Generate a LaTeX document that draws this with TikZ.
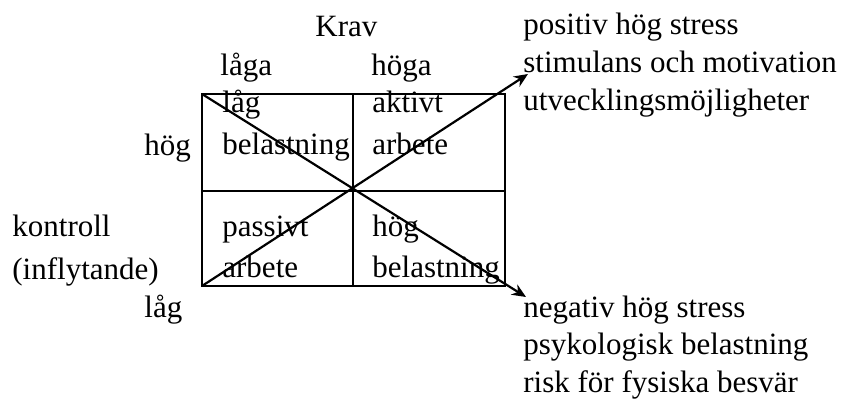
\documentclass[tikz,border=0pt]{standalone}
\usepackage{fontspec}
\setmainfont{Liberation Serif}
\usetikzlibrary{arrows.meta,positioning,calc}
\tikzset{
  txt style/.style={anchor=base west, inner sep=0pt, font=\fontsize{15.5}{19}\selectfont},
  grid style/.style={line width=1.1pt},
  arr style/.style={-{Stealth[length=7pt,width=6pt]}, line width=1.1pt}
}

\begin{document}
\begin{tikzpicture}[x=0.5pt, y=-0.5pt]
\useasboundingbox (0,0) rectangle (842,401);
% grid corners
\coordinate (tl) at (202,94);
\coordinate (tr) at (505,94);
\coordinate (bl) at (202,286);
\coordinate (br) at (505,286);
\coordinate (mid) at (353,191);
\coordinate (ptip) at (528,74);
\coordinate (ntip) at (526,297);
\draw[grid style] (tl) rectangle (br);
\draw[grid style] (tl -| mid) -- (bl -| mid);
\draw[grid style] (tl |- mid) -- (tr |- mid);
\draw[arr style] (bl) -- (ptip);
\draw[arr style] (tl) -- (ntip);
% axis labels
\node[txt style] (krav) at (315,37) {Krav};
\node[txt style] (laga) at (220,76) {låga};
\node[txt style] (hoga) at (371,76) {höga};
\node[txt style] (hog) at (144,156) {hög};
\node[txt style] (ktrl) at (12,237) {kontroll};
\node[txt style] (infl) at (12,279) {(inflytande)};
\node[txt style] (lag) at (144,317) {låg};
% cells
\node[txt style] (c1a) at (222,113) {låg};
\node[txt style] (c1b) at (222,155) {belastning};
\node[txt style] (c2a) at (372,113) {aktivt};
\node[txt style] (c2b) at (372,155) {arbete};
\node[txt style] (c3a) at (222,237) {passivt};
\node[txt style] (c3b) at (222,278) {arbete};
\node[txt style] (c4a) at (372,237) {hög};
\node[txt style] (c4b) at (372,278) {belastning};
% outcomes
\node[txt style] (p1) at (523,35) {positiv hög stress};
\node[txt style] (p2) at (523,73) {stimulans och motivation};
\node[txt style] (p3) at (523,111) {utvecklingsmöjligheter};
\node[txt style] (n1) at (523,317) {negativ hög stress};
\node[txt style] (n2) at (523,355) {psykologisk belastning};
\node[txt style] (n3) at (523,393) {risk för fysiska besvär};
\end{tikzpicture}
\end{document}
